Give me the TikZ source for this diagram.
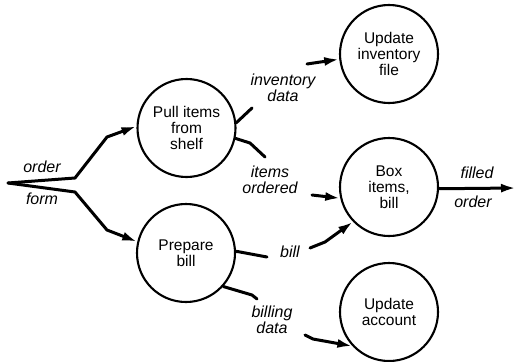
\documentclass[tikz,border=0pt]{standalone}
\usepackage{fontspec}
\setmainfont{Liberation Sans}
\usetikzlibrary{arrows.meta}
\begin{document}
\begin{tikzpicture}[x=1pt,y=-1pt,
 proc/.style={circle,draw,line width=2.1pt,minimum size=98pt,inner sep=0pt,align=center,font=\fontsize{15.5}{16}\selectfont},
 lbl/.style={font=\fontsize{16}{16.5}\selectfont\itshape,align=center,inner sep=0pt},
 flow/.style={line width=3pt,line join=round,line cap=round},
 arr/.style={flow,-{Latex[length=15pt,width=9pt]}}]
\useasboundingbox (0,0) rectangle (518,361);
% processes
\node[proc] (pull) at (186.5,128) {Pull items\\from\\shelf};
\node[proc] (prep) at (186,253) {Prepare\\bill};
\node[proc] (inv)  at (389,54)  {Update\\inventory\\file};
\node[proc] (box)  at (389,187) {Box\\items,\\bill};
\node[proc] (acct) at (389,312) {Update\\account};
% labels
\node[lbl] (lorder) at (42,167) {order};
\node[lbl] (lform)  at (42,199) {form};
\node[lbl] (linv)   at (283,88) {inventory\\data};
\node[lbl] (litems) at (270,180) {items\\ordered};
\node[lbl] (lbill)  at (290,252) {bill};
\node[lbl] (lbdata) at (272,320) {billing\\data};
\node[lbl] (lfill)  at (477,173) {filled};
\node[lbl] (lford)  at (473,202) {order};
% free ends
\coordinate (in) at (8,183);
\coordinate (j1) at (75,178);
\coordinate (k1) at (107,137);
\coordinate (j2) at (75,192);
\coordinate (k2) at (107,230);
\coordinate (s1) at (252,108);
\coordinate (a1) at (307,64);
\coordinate (s2a) at (250,143);
\coordinate (s2) at (265,157);
\coordinate (a2) at (312,195);
\coordinate (s3) at (267,257);
\coordinate (a3) at (310,248);
\coordinate (a3b) at (325,242);
\coordinate (s4a) at (252,295);
\coordinate (s4) at (257,299);
\coordinate (a4) at (305,335);
\coordinate (a4b) at (313,339);
\coordinate (out) at (516,188);
% flows
\draw[arr] (in) -- (j1) -- (k1) -- (pull.178);
\draw[arr] (in) -- (j2) -- (k2) -- (prep.167);
\draw[flow] (pull.6) -- (s1);
\draw[arr] (a1) -- (inv.-174);
\draw[flow] (pull.-12) -- (s2a) -- (s2);
\draw[arr] (a2) -- (box.-167);
\draw[flow] (prep.2) -- (s3);
\draw[arr] (a3) -- (a3b) -- (box.-136);
\draw[flow] (prep.-42) -- (s4a) -- (s4);
\draw[arr] (a4) -- (a4b) -- (acct.-137);
\draw[arr] (box.-2) -- (out);
\end{tikzpicture}
\end{document}
